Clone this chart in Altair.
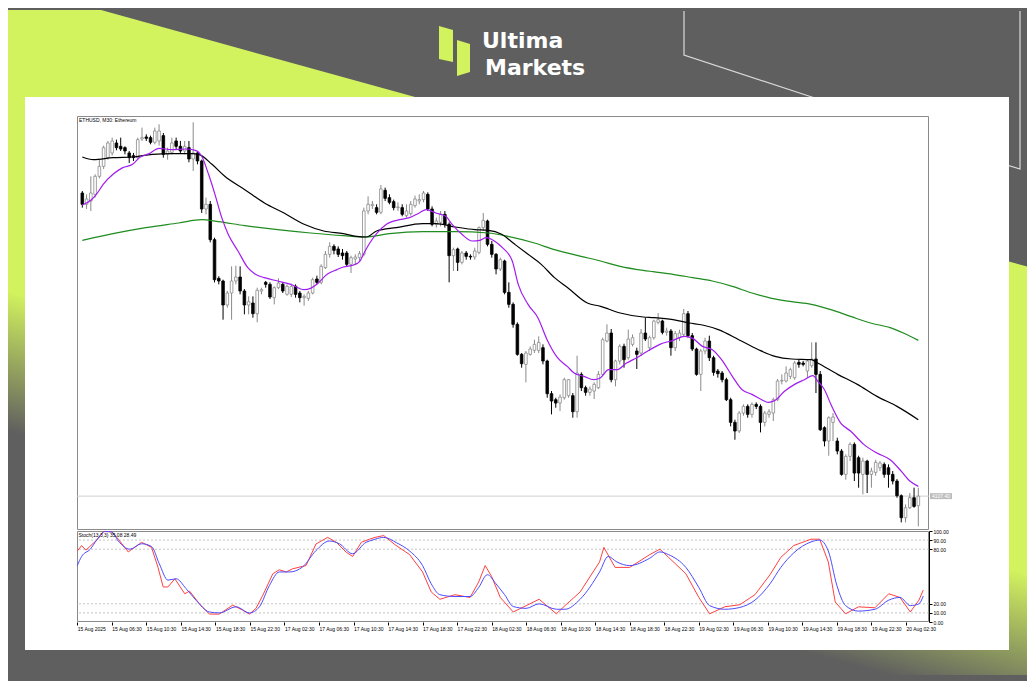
import altair as alt
import pandas as pd

# ---------------- data ----------------
opens = [4562,4545,4550,4560,4587,4602,4615,4622,4637,4632,4630,4622,4618,4615,4643,4646,4645,4638,4640,4648,
         4620,4623,4640,4632,4625,4630,4613,4622,4610,4538,4545,4492,4434,4430,4394,4412,4430,4436,4415,4394,
         4397,4381,4415,4428,4425,4405,4420,4425,4410,4410,4422,4412,4405,4404,4412,4433,4428,4450,4470,4482,
         4478,4472,4472,4455,4463,4465,4470,4535,4543,4540,4533,4566,4555,4549,4540,4540,4528,4531,4543,4550,
         4552,4560,4538,4515,4518,4530,4515,4468,4478,4458,4472,4467,4466,4473,4510,4520,4485,4470,4448,4460,
         4413,4395,4365,4320,4305,4320,4326,4326,4330,4310,4261,4252,4247,4255,4258,4258,4234,4290,4270,4263,
         4265,4270,4290,4340,4352,4282,4310,4332,4315,4335,4325,4322,4352,4330,4345,4368,4370,4353,4355,4330,
         4345,4350,4381,4348,4328,4290,4325,4340,4315,4295,4292,4282,4252,4218,4205,4232,4242,4230,4245,4242,
         4218,4230,4232,4252,4280,4280,4287,4285,4308,4307,4295,4303,4313,4290,4210,4190,4218,4190,4175,4140,
         4167,4185,4165,4140,4160,4140,4143,4150,4155,4150,4140,4130,4108,4075,4090,4105,4093]
highs = [4565,4560,4587,4590,4612,4633,4640,4645,4642,4645,4632,4625,4622,4645,4660,4650,4648,4660,4665,4652,
         4630,4645,4645,4640,4640,4640,4668,4625,4612,4555,4550,4495,4437,4432,4415,4452,4453,4452,4418,4407,
         4407,4420,4420,4430,4428,4422,4434,4428,4425,4426,4425,4415,4410,4415,4435,4438,4455,4475,4488,4485,
         4482,4478,4475,4468,4470,4475,4540,4557,4550,4545,4574,4570,4560,4552,4548,4545,4545,4550,4558,4560,
         4565,4563,4542,4525,4535,4535,4518,4480,4480,4475,4475,4470,4480,4512,4532,4522,4490,4472,4465,4462,
         4428,4398,4368,4322,4325,4332,4342,4347,4335,4312,4265,4255,4260,4285,4283,4262,4318,4293,4273,4272,
         4278,4295,4345,4365,4358,4312,4335,4336,4357,4350,4330,4358,4375,4348,4372,4382,4372,4360,4358,4355,
         4357,4388,4385,4352,4330,4328,4345,4348,4318,4298,4295,4285,4255,4222,4235,4245,4245,4248,4248,4245,
         4235,4238,4255,4283,4290,4302,4300,4310,4312,4310,4312,4338,4338,4295,4212,4227,4232,4195,4178,4170,
         4188,4188,4168,4165,4162,4150,4162,4160,4158,4155,4145,4133,4110,4095,4112,4120,4120]
lows = [4540,4538,4535,4555,4584,4598,4612,4618,4626,4625,4620,4607,4610,4612,4640,4640,4635,4635,4633,4615,
        4612,4620,4628,4622,4620,4608,4595,4605,4532,4530,4488,4428,4425,4372,4390,4372,4425,4410,4380,4380,
        4375,4368,4410,4420,4403,4395,4418,4412,4408,4406,4405,4398,4393,4400,4410,4425,4425,4448,4465,4470,
        4466,4462,4452,4442,4455,4460,4467,4530,4538,4530,4530,4550,4545,4536,4535,4527,4525,4528,4540,4545,
        4548,4535,4512,4510,4512,4510,4428,4445,4445,4455,4462,4462,4462,4470,4505,4482,4465,4440,4445,4410,
        4390,4360,4318,4300,4278,4318,4322,4322,4305,4255,4230,4240,4235,4252,4255,4225,4225,4265,4258,4258,
        4253,4268,4288,4338,4278,4272,4305,4300,4312,4332,4298,4318,4340,4325,4342,4365,4350,4348,4318,4325,
        4340,4347,4345,4325,4288,4265,4320,4310,4288,4285,4278,4250,4212,4192,4202,4228,4225,4225,4238,4203,
        4212,4225,4220,4250,4275,4278,4283,4282,4300,4302,4285,4300,4262,4205,4182,4168,4190,4170,4138,4132,
        4160,4130,4120,4110,4112,4120,4138,4145,4135,4120,4125,4105,4068,4068,4088,4090,4062]
closes = [4545,4553,4562,4587,4602,4630,4637,4640,4630,4628,4625,4615,4615,4642,4645,4644,4638,4655,4655,4620,
          4625,4637,4632,4625,4632,4613,4622,4610,4538,4545,4492,4432,4430,4394,4412,4430,4436,4415,4394,4399,
          4381,4416,4417,4425,4406,4420,4427,4415,4422,4422,4410,4405,4407,4412,4432,4428,4452,4470,4482,4476,
          4470,4468,4455,4465,4466,4471,4535,4545,4545,4533,4568,4554,4548,4540,4541,4530,4535,4545,4553,4552,
          4562,4538,4515,4520,4530,4515,4468,4477,4458,4472,4467,4466,4475,4510,4521,4485,4470,4448,4462,4413,
          4395,4365,4320,4306,4322,4328,4335,4338,4310,4261,4250,4247,4256,4282,4282,4234,4292,4270,4263,4268,
          4275,4290,4342,4352,4282,4310,4332,4312,4343,4345,4320,4352,4343,4345,4370,4372,4353,4355,4330,4351,
          4352,4381,4348,4328,4290,4325,4340,4315,4293,4291,4282,4252,4218,4205,4232,4242,4230,4245,4242,4218,
          4232,4234,4252,4280,4281,4292,4297,4307,4305,4305,4310,4313,4290,4207,4190,4225,4226,4175,4140,4167,
          4185,4142,4142,4160,4140,4145,4158,4157,4140,4140,4130,4108,4075,4090,4105,4092,4107.4]

x_labels = ["15 Aug 2025", "15 Aug 06:30", "15 Aug 10:30", "15 Aug 14:30", "15 Aug 18:30",
            "15 Aug 22:30", "17 Aug 02:30", "17 Aug 06:30", "17 Aug 10:30", "17 Aug 14:30",
            "17 Aug 18:30", "17 Aug 22:30", "18 Aug 02:30", "18 Aug 06:30", "18 Aug 10:30",
            "18 Aug 14:30", "18 Aug 18:30", "18 Aug 22:30", "19 Aug 02:30", "19 Aug 06:30",
            "19 Aug 10:30", "19 Aug 14:30", "19 Aug 18:30", "19 Aug 22:30", "20 Aug 02:30"]
x_label_bars = [0, 8, 16, 24, 32, 40, 48, 56, 64, 72, 80, 88, 96, 104, 112, 120, 128, 136,
                144, 152, 160, 168, 176, 184, 192]

price_ticks = [4653.45, 4627.50, 4601.55, 4575.60, 4549.65, 4523.70, 4497.75, 4471.80,
               4445.85, 4419.90, 4393.95, 4368.00, 4342.05, 4316.10, 4290.15, 4264.20,
               4238.25, 4212.30, 4186.35, 4160.40, 4134.45, 4082.55]
current_price = [4107.40]

purple_i = [0,2,3.3,4.9,7.2,9.5,11.8,13.4,15.7,18,21,24.2,26.5,28,29.6,31.1,32.7,34.2,36.5,38.8,
            40.4,42.7,45.8,48.9,52,53.5,55,57.4,59.7,61.2,63.6,65.1,65.9,67.4,69,71.3,74.4,76.7,79,80.6,
            82.9,85.2,86.7,89,91.4,93.2,94.7,96.6,98.5,100.8,102.2,104.5,106.8,109.1,111.4,113.7,115.3,
            117.6,119.9,121.5,123.4,125.3,127.6,130,132.3,135.4,138.5,141.2,143.1,145.4,147.7,150,152.4,
            154.7,157,159.3,160.8,162.4,164.7,167,169.3,171.3,172.4,174,175.5,177.8,180.1,183.2,186.3,
            189.4,191.7,194,196]
purple_v = [4544,4551,4560,4575,4590,4600,4605,4615,4621,4629,4627,4628,4626,4617,4590,4560,4525,4500,
            4475,4450,4441,4435,4430,4425,4417,4419,4425,4440,4447,4451,4454,4460,4470,4487,4501,4515,
            4522,4525,4532,4537,4532,4527,4515,4500,4490,4491,4495,4490,4480,4460,4425,4395,4375,4340,
            4315,4302,4292,4287,4282,4285,4297,4297,4307,4315,4324,4335,4341,4347,4344,4332,4327,4311,
            4287,4267,4260,4252,4248,4251,4265,4275,4282,4288,4280,4267,4245,4217,4205,4185,4172,4162,
            4147,4130,4122]

black_i = [0,2.6,7.2,11.8,16.4,21.1,25.7,27.3,30.4,33.4,38.1,42.7,47.3,52,56.6,61.2,64.3,66.6,69,73.6,
           79.8,82.9,87.5,92.1,95.2,98.3,101.4,104.5,107.6,110.7,113.8,118.4,121.5,126.1,131.5,134,138.5,
           142.3,145.4,149.1,153.9,158.5,162.4,166.3,170.9,172.4,177.1,181.7,186.3,191,196]
black_v = [4616,4612,4615,4616,4620,4621,4621,4620,4605,4587,4567,4547,4532,4515,4505,4501,4497,4496,
           4505,4510,4516,4516,4511,4507,4506,4500,4485,4470,4455,4435,4420,4397,4392,4382,4376,4375,
           4372,4367,4364,4357,4342,4327,4317,4313,4312,4307,4290,4275,4257,4242,4222]

green_i = [0,7.2,14.9,22.6,28,31.9,38.1,45.8,53.5,61.2,66.6,72,79.8,87.5,95.2,99.8,106,110.7,116.9,
           121.5,126.1,131.5,133.8,138.5,143.1,147.7,152.4,157,161.6,166.3,170.9,175.5,180.1,184.8,
           189.4,192.5,196]
green_v = [4491,4501,4510,4517,4522,4519,4513,4507,4502,4498,4496,4501,4504,4504,4502,4497,4487,4477,
           4467,4460,4452,4446,4444,4440,4435,4430,4422,4412,4404,4399,4395,4387,4377,4367,4360,4352,4341]

stoch_main_i = [0,1,2,4.5,6,8,9.5,11.8,14.9,17.2,18.7,19.9,21,22.6,24.9,26,28.3,30.6,32.9,36,38.3,39.9,
                41.4,43,45.3,46.8,48.4,49.9,53,55.3,58,60,62.3,63.8,65.8,67.7,69,71,73.6,77,80,82,84,
                87.5,91,93,94.5,96,98,101,104,107,111,113,116.5,121,122,124.6,128,132.6,135,137,141,144,
                146.5,150,153.5,157,160.5,163,166,170,172,174,175.6,178,181,184.8,188,190.6,193,195,196]
stoch_main_v = [78,84,79,90,99.5,99,91,77,87.6,82,60,38.5,38.5,47.5,31,34,20,8.7,8.7,18.5,13,8.7,15,29.5,
                53,57.4,55,58.5,62,85.7,93,87.6,76.7,72,87.6,91,93,95,85,74,55,33,25,30,27,44,62,50,27,
                11,18,25,9,18,33,66,82,60,60,74,80,71,53,27,9,16.7,19,30,52,71,84,91,91,66,22,9,16.7,
                15.6,31,27,11,24,35.08]
stoch_signal_i = [0,1,3,4.5,6.5,8,9.5,12.2,14.9,17.2,19,21,22.9,25.2,27.5,30.6,32.9,36.8,39.9,42.2,44.5,
                  46.8,49.2,52.2,55.3,58.4,60.7,63.8,66.9,67.7,69,71,74,77,80,82,84,87.5,91,93,95,97,99,
                  101,104,107,111,113,116.5,121,123,125,128,132.6,135,137,141,144,146.5,150,153.5,157,
                  160.5,163,166,170,172,174,176,178,181,184.8,188,190.6,193,195,196]
stoch_signal_v = [62,72,80,90,99.5,99,89,80,86,83,64,46,47.5,36.7,24,11,10,16.7,10,16.7,40,55,55,60.5,
                  78.5,89,86,75,87.6,89,91,93,87,78,62,42,30,28,28,38,52,42,30,17,15,20,14,14,25,55,72,
                  66,62,70,77,74,60,38,18,14,16,24,42,60,76,88,90,78,40,18,12,14,24,27,18,20,28.49]
stoch_levels = [90, 80, 20, 10]
stoch_ticks = [100, 90, 80, 20, 10, 0]

# ---------------- styling ----------------
BG = "#5f5f5f"
LIME = "#d2f25e"
W, H_TOP, H_STO = 852, 414, 91
X_DOMAIN = [-0.07, 197.33]
P_DOMAIN = [4056.6, 4677.45]
FONT = "Liberation Sans"

candles = pd.DataFrame({"i": list(range(len(opens))), "open": opens, "high": highs,
                        "low": lows, "close": closes})
candles["dir"] = ["up" if c >= o else "down" for o, c in zip(opens, closes)]

one = pd.DataFrame({"k": [0]})
xs = alt.Scale(domain=X_DOMAIN, nice=False, zero=False)
ys = alt.Scale(domain=P_DOMAIN, nice=False, zero=False)
ss = alt.Scale(domain=[0, 100], nice=False, zero=False)

price_axis = alt.Axis(orient="right", values=price_ticks, format=".2f", title=None, grid=False,
                      labelFont=FONT, labelFontSize=5, labelColor="#000", tickColor="#000",
                      tickSize=3, domainColor="#000", labelPadding=1, labelOverlap=False,
                      labelFlush=False)
stoch_axis = alt.Axis(orient="right", values=stoch_ticks, format=".2f", title=None, grid=False,
                      labelFont=FONT, labelFontSize=5, labelColor="#000", tickColor="#000",
                      tickSize=3, domainColor="#000", labelPadding=1, labelOverlap=False,
                      labelFlush=False)
label_expr = "[" + ",".join("'%s'" % s for s in x_labels) + "][round(datum.value/8)]"
time_axis = alt.Axis(values=x_label_bars, labelExpr=label_expr, title=None, grid=False, domain=False,
                     tickColor="#000", tickSize=3, labelFont=FONT, labelFontSize=5, labelColor="#000",
                     labelAlign="left", labelPadding=1, labelFlush=False, labelOverlap=False)

# ---------------- decorations (page furniture) ----------------
bg = alt.Chart(one).mark_rect(color=BG).encode(
    x=alt.value(-69), x2=alt.value(950), y=alt.value(-106), y2=alt.value(565))

lime_fill = alt.LinearGradient(
    gradient="linear",
    stops=[alt.GradientStop(color=LIME, offset=0), alt.GradientStop(color=LIME, offset=0.687),
           alt.GradientStop(color=BG, offset=1)],
    x1=0.0628, y1=-0.012, x2=-0.179, y2=0.557)
lime = alt.Chart(one).mark_point(
    shape="M-69,-106L24,-106L950,150.5L950,559L-69,559Z", size=4, filled=True, opacity=1,
    fill=lime_fill, strokeWidth=0).encode(x=alt.value(0), y=alt.value(0))

outline = alt.Chart(one).mark_point(
    shape="M607,-105L607,-61L753,-13M943,-105L943,53L923,47", size=4, filled=False, opacity=1,
    stroke="#d9d9d9", strokeWidth=1.2).encode(x=alt.value(0), y=alt.value(0))

logo_icon = alt.Chart(one).mark_point(
    shape="M362,-90L376,-86L376,-54L362,-57ZM380,-76L393,-72L393,-44L380,-40Z", size=4,
    filled=True, opacity=1, color=LIME, strokeWidth=0).encode(x=alt.value(0), y=alt.value(0))
logo_t1 = alt.Chart(one).mark_text(align="left", baseline="alphabetic", font="DejaVu Sans",
                                   fontSize=22, fontWeight="bold", color="white").encode(
    x=alt.value(405), y=alt.value(-68), text=alt.value("Ultima"))
logo_t2 = alt.Chart(one).mark_text(align="left", baseline="alphabetic", font="DejaVu Sans",
                                   fontSize=22, fontWeight="bold", color="white").encode(
    x=alt.value(408), y=alt.value(-41), text=alt.value("Markets"))

panel = alt.Chart(one).mark_rect(color="white").encode(
    x=alt.value(-52), x2=alt.value(932), y=alt.value(-19), y2=alt.value(534))

frame_top = alt.Chart(one).mark_rect(fillOpacity=0, stroke="#8a8a8a", strokeWidth=1).encode(
    x=alt.value(0.5), x2=alt.value(851.5), y=alt.value(0.5), y2=alt.value(413.5))
title_top = alt.Chart(one).mark_text(align="left", baseline="top", font=FONT, fontSize=5,
                                     color="#000").encode(
    x=alt.value(2), y=alt.value(2), text=alt.value("ETHUSD, M30: Ethereum"))

# ---------------- price panel ----------------
cp = pd.DataFrame({"p": current_price})
price_line = alt.Chart(cp).mark_rule(color="#cfcfcf", strokeWidth=1).encode(
    y=alt.Y("p:Q", scale=ys, axis=price_axis))

dir_scale_line = alt.Scale(domain=["up", "down"], range=["#8a8a8a", "#000000"])
wick = alt.Chart(candles).mark_rule(strokeWidth=1).encode(
    x=alt.X("i:Q", scale=xs, axis=None),
    y=alt.Y("low:Q", scale=ys, axis=price_axis),
    y2="high:Q",
    color=alt.Color("dir:N", scale=dir_scale_line, legend=None))
body = alt.Chart(candles).mark_bar(size=2.6, strokeWidth=0.8).encode(
    x=alt.X("i:Q", scale=xs, axis=None),
    y=alt.Y("open:Q", scale=ys, axis=price_axis),
    y2="close:Q",
    fill=alt.Fill("dir:N", scale=alt.Scale(domain=["up", "down"], range=["#ffffff", "#000000"]),
                  legend=None),
    stroke=alt.Stroke("dir:N", scale=dir_scale_line, legend=None))


def ma_line(ix, vals, col):
    df = pd.DataFrame({"i": ix, "p": vals})
    return alt.Chart(df).mark_line(color=col, strokeWidth=1.2, interpolate="monotone").encode(
        x=alt.X("i:Q", scale=xs, axis=None), y=alt.Y("p:Q", scale=ys, axis=price_axis))


green = ma_line(green_i, green_v, "#1e8c1e")
black = ma_line(black_i, black_v, "#000000")
purple = ma_line(purple_i, purple_v, "#a21cf0")

cp_box = alt.Chart(cp).mark_point(shape="M0,-3L22,-3L22,3L0,3Z", size=4, filled=True, opacity=1,
                                  color="#bdbdbd", strokeWidth=0).encode(
    x=alt.value(853), y=alt.Y("p:Q", scale=ys, axis=price_axis))
cp_text = alt.Chart(cp).mark_text(align="left", baseline="middle", font=FONT, fontSize=5,
                                  color="white").encode(
    x=alt.value(855), y=alt.Y("p:Q", scale=ys, axis=price_axis),
    text=alt.Text("p:Q", format=".2f"))

top = alt.layer(bg, lime, outline, logo_icon, logo_t1, logo_t2, panel, frame_top, price_line,
                wick, body, green, black, purple, cp_box, cp_text, title_top).properties(
    width=W, height=H_TOP)

# ---------------- stochastic panel ----------------
frame_sto = alt.Chart(one).mark_rect(fillOpacity=0, stroke="#8a8a8a", strokeWidth=1).encode(
    x=alt.value(0.5), x2=alt.value(851.5), y=alt.value(0.5), y2=alt.value(90.5))
lv = pd.DataFrame({"v": stoch_levels})
levels = alt.Chart(lv).mark_rule(color="#b5b5b5", strokeWidth=0.8, strokeDash=[2, 2]).encode(
    y=alt.Y("v:Q", scale=ss, axis=stoch_axis))
main_df = pd.DataFrame({"i": stoch_main_i, "v": stoch_main_v})
sig_df = pd.DataFrame({"i": stoch_signal_i, "v": stoch_signal_v})
sig_line = alt.Chart(sig_df).mark_line(color="#4b4bff", strokeWidth=1, interpolate="monotone").encode(
    x=alt.X("i:Q", scale=xs, axis=time_axis), y=alt.Y("v:Q", scale=ss, axis=stoch_axis))
main_line = alt.Chart(main_df).mark_line(color="#ff4040", strokeWidth=1).encode(
    x=alt.X("i:Q", scale=xs, axis=time_axis), y=alt.Y("v:Q", scale=ss, axis=stoch_axis))
title_sto = alt.Chart(one).mark_text(align="left", baseline="top", font=FONT, fontSize=5,
                                     color="#000").encode(
    x=alt.value(1.5), y=alt.value(2), text=alt.value("Stoch(13,3,3) 35.08 28.49"))

bottom = alt.layer(frame_sto, levels, main_line, sig_line, title_sto).properties(
    width=W, height=H_STO)

chart = alt.vconcat(top, bottom, spacing=1, bounds="flush").properties(
    padding=0, background=BG).configure_view(strokeWidth=0)

chart.save("out.html", embed_options={"renderer": "svg", "actions": False})
